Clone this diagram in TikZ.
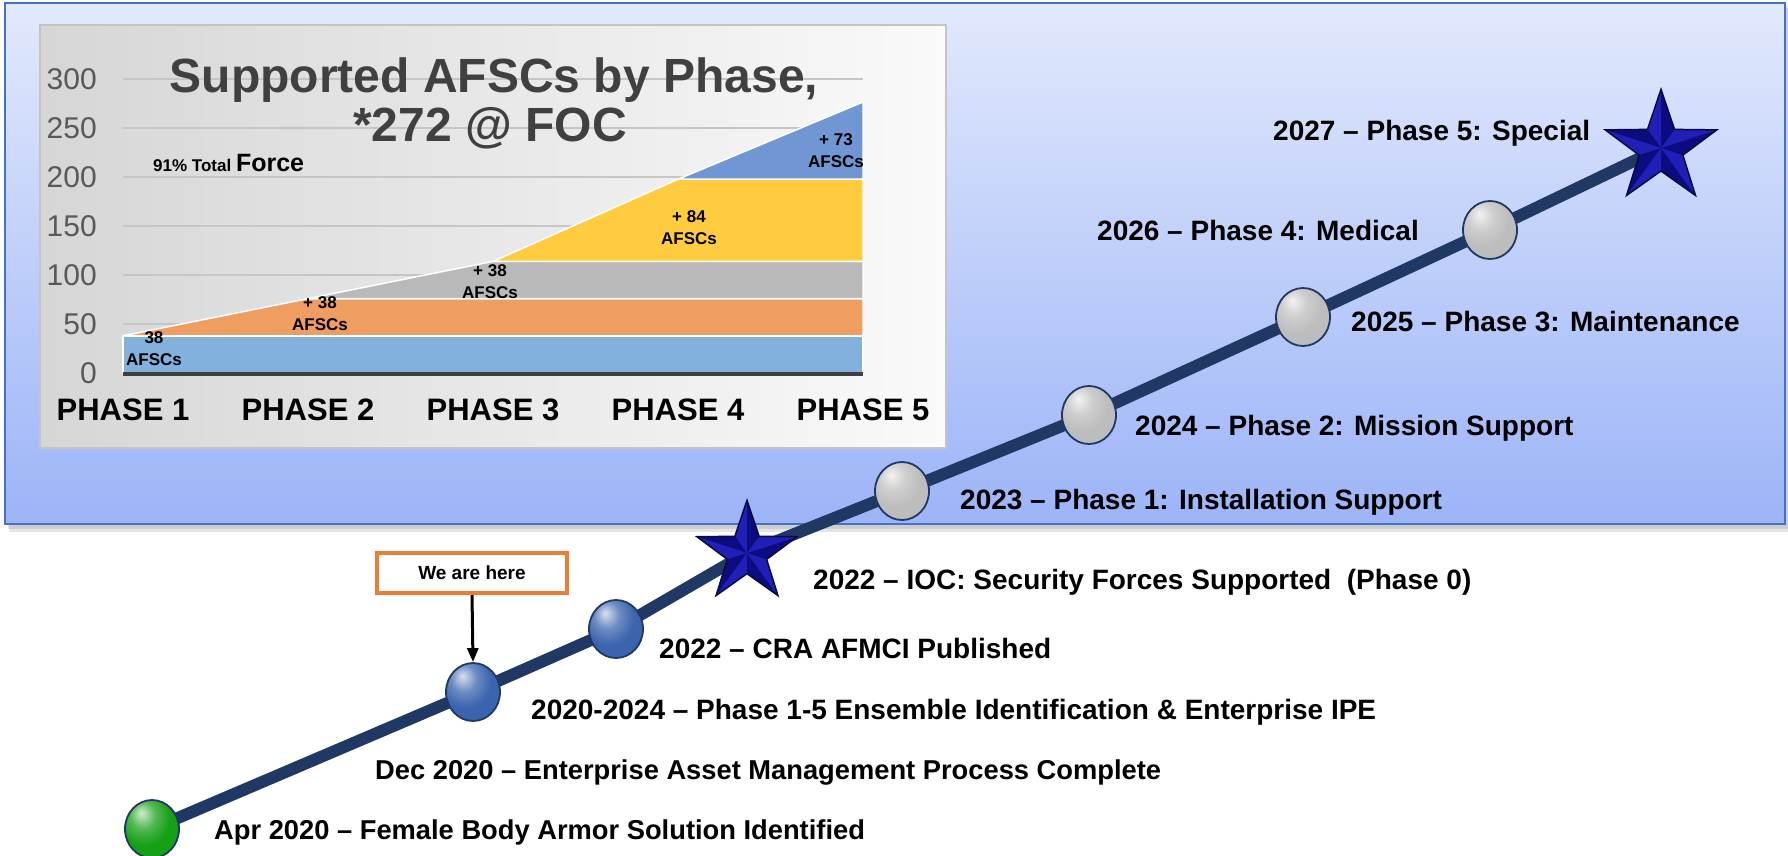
\documentclass[tikz,border=0pt]{standalone}
\usepackage{fontspec}
\setmainfont{Liberation Sans}
\usetikzlibrary{shapes.geometric,arrows.meta}
\definecolor{panelTop}{HTML}{E2E9FC}
\definecolor{panelBot}{HTML}{9CB4F8}
\definecolor{panelBorder}{HTML}{4472C4}
\definecolor{chartL}{HTML}{D6D6D6}
\definecolor{chartR}{HTML}{FAFAFA}
\definecolor{chartBorder}{HTML}{C4C4C4}
\definecolor{gridc}{HTML}{C6C6C6}
\definecolor{axisc}{HTML}{404040}
\definecolor{titlec}{HTML}{404040}
\definecolor{ticklab}{HTML}{595959}
\definecolor{areaA}{HTML}{82B1DE}
\definecolor{areaB}{HTML}{F09D62}
\definecolor{areaC}{HTML}{B9B9B9}
\definecolor{areaD}{HTML}{FFCC40}
\definecolor{areaE}{HTML}{7097D3}
\definecolor{tline}{HTML}{203864}
\definecolor{ballGray}{HTML}{BDBDBD}
\definecolor{ballBlue}{HTML}{3A64AE}
\definecolor{ballGreen}{HTML}{16A016}
\definecolor{starBase}{HTML}{1818A4}
\definecolor{starLight}{HTML}{2020B8}
\definecolor{starDark}{HTML}{0C0C80}
\definecolor{starEdge}{HTML}{0A0A40}
\definecolor{hereOrange}{HTML}{ED7D31}
\colorlet{mybase}{gray}
\pgfdeclareradialshading[mybase]{glossy}{\pgfpoint{-10bp}{14bp}}{%
  color(0bp)=(white!80!mybase);
  color(12bp)=(white!25!mybase);
  color(24bp)=(mybase);
  color(38bp)=(mybase);
  color(54bp)=(mybase!72!black);
  color(66bp)=(mybase!50!black);
  color(80bp)=(mybase!50!black)}
\pgfdeclarelayer{back}
\pgfdeclarelayer{mid}
\pgfsetlayers{back,mid,main}
\begin{document}
\begin{tikzpicture}[x=1pt,y=-1pt,
  ball/.style={ellipse, minimum width=54pt, minimum height=58pt, inner sep=0pt,
    /utils/exec={\colorlet{mybase}{#1}}, shading=glossy, draw=tline, line width=1.8pt},
  mstar/.style={star, star points=5, star point ratio=2.55, inner sep=0pt, fill=starBase},
  lbl/.style={font=\bfseries\fontsize{28}{32}\selectfont, anchor=west, inner sep=0pt},
  lbls/.style={font=\bfseries\fontsize{27.3}{32}\selectfont, anchor=west, inner sep=0pt},
  ytick/.style={font=\fontsize{30}{32}\selectfont, text=ticklab, anchor=east, inner sep=0pt},
  phase/.style={font=\bfseries\fontsize{31}{34}\selectfont, inner sep=0pt},
  band/.style={font=\bfseries\fontsize{17}{22}\selectfont, align=center, inner sep=0pt},
  ttl/.style={font=\bfseries\fontsize{48}{50}\selectfont, text=titlec, inner sep=0pt},
  area/.style={draw=white, line width=1.5pt, line join=round},
]
\useasboundingbox (0,0) rectangle (1788,856);
\begin{pgfonlayer}{back}
  % panel with soft shadow
  \fill[black, opacity=0.10] (9,8) rectangle (1790,532);
  \fill[black, opacity=0.10] (8,6) rectangle (1789,529);
  \path[top color=panelTop, bottom color=panelBot, draw=panelBorder, line width=2pt] (5,3) rectangle (1785,524);
  % chart box
  \path[left color=chartL, right color=chartR, draw=chartBorder, line width=2pt] (40,25) rectangle (946,448);
  \foreach \v in {50,100,...,300}
    \draw[gridc, line width=2pt] (123,{373-0.9787*\v}) -- (863,{373-0.9787*\v});
  % stacked areas
  \path[area, fill=areaA] (123,373) -- (123,335.8) -- (863,335.8) -- (863,373) -- cycle;
  \path[area, fill=areaB] (123,335.8) -- (308,298.6) -- (863,298.6) -- (863,335.8) -- cycle;
  \path[area, fill=areaC] (308,298.6) -- (493,261.4) -- (863,261.4) -- (863,298.6) -- cycle;
  \path[area, fill=areaD] (493,261.4) -- (678,179.2) -- (863,179.2) -- (863,261.4) -- cycle;
  \path[area, fill=areaE] (678,179.2) -- (863,102) -- (863,179.2) -- cycle;
  \draw[axisc, line width=4pt] (123,374) -- (863,374);
  \foreach \v in {0,50,...,300}
    \node[ytick] (y\v) at (97,{373-0.9787*\v}) {\v};
  \foreach \i/\x in {1/123,2/308,3/493,4/678,5/863}
    \node[phase] (p\i) at (\x,410) {PHASE \i};
  \node[ttl] (t1) at (494,80) {Supported AFSCs by Phase,};
  \node[ttl] (t2) at (490,128) {*272 @ FOC};
  \node[anchor=west, inner sep=0pt] (tf) at (153,163) {\bfseries\fontsize{17}{20}\selectfont 91\% Total \fontsize{25}{28}\selectfont Force};
  \node[band] (b1) at (154,349) {38\\AFSCs};
  \node[band] (b2) at (320,314) {+ 38\\AFSCs};
  \node[band] (b3) at (490,282) {+ 38\\AFSCs};
  \node[band] (b4) at (689,228) {+ 84\\AFSCs};
  \node[band] (b5) at (836,151) {+ 73\\AFSCs};
\end{pgfonlayer}
% milestones
\node[ball=ballGreen] (m0) at (152,829) {};
\node[ball=ballBlue] (m1) at (473,692) {};
\node[ball=ballBlue] (m2) at (616,629) {};
\node[mstar, minimum size=104pt] (m3) at (747,553) {};
\node[ball=ballGray] (m4) at (902,491) {};
\node[ball=ballGray] (m5) at (1089,415) {};
\node[ball=ballGray] (m6) at (1303,317) {};
\node[ball=ballGray] (m7) at (1490,230) {};
\node[mstar, minimum size=116pt] (m8) at (1661,148) {};
\foreach \s in {m3,m8}{
  \foreach \i in {1,...,5}{
    \pgfmathtruncatemacro\j{mod(\i,5)+1}
    \fill[starLight] (\s.center) -- (\s.outer point \i) -- (\s.inner point \i) -- cycle;
    \fill[starDark] (\s.center) -- (\s.inner point \i) -- (\s.outer point \j) -- cycle;
  }
  \draw[starEdge, line width=1.5pt, line join=miter] (\s.outer point 1) -- (\s.inner point 1) -- (\s.outer point 2) -- (\s.inner point 2) -- (\s.outer point 3) -- (\s.inner point 3) -- (\s.outer point 4) -- (\s.inner point 4) -- (\s.outer point 5) -- (\s.inner point 5) -- cycle;
}
\begin{pgfonlayer}{mid}
  \draw[tline, line width=12pt, line join=round] (m0.center) -- (m1.center) -- (m2.center) -- (m3.center) -- (m4.center) -- (m5.center) -- (m6.center) -- (m7.center) -- (m8.center);
\end{pgfonlayer}
% labels
\node[lbl] (l8) at (1273,133) {2027 – Phase 5: Special};
\node[lbl] (l7) at (1097,230) {2026 – Phase 4: Medical};
\node[lbl] (l6) at (1351,322) {2025 – Phase 3: Maintenance};
\node[lbl] (l5) at (1135,428) {2024 – Phase 2: Mission Support};
\node[lbl] (l4) at (960,502) {2023 – Phase 1: Installation Support};
\node[lbl] (l3) at (813,582) {2022 – IOC: Security Forces Supported\ \ (Phase 0)};
\node[lbl] (l2) at (659,648) {2022 – CRA AFMCI Published};
\node[lbl] (l1) at (531,712) {2020-2024 – Phase 1-5 Ensemble Identification \& Enterprise IPE};
\node[lbls] (l9) at (375,772) {Dec 2020 – Enterprise Asset Management Process Complete};
\node[lbls] (l0) at (214,832) {Apr 2020 – Female Body Armor Solution Identified};
% we are here
\node[draw=hereOrange, line width=4pt, fill=white, minimum width=190pt, minimum height=40pt, inner sep=0pt, font=\bfseries\fontsize{19}{22}\selectfont] (here) at (472,573) {We are here};
\draw[-{Triangle[length=14pt,width=11pt]}, line width=3pt] (here.south) -- (m1.north);
\end{tikzpicture}
\end{document}
